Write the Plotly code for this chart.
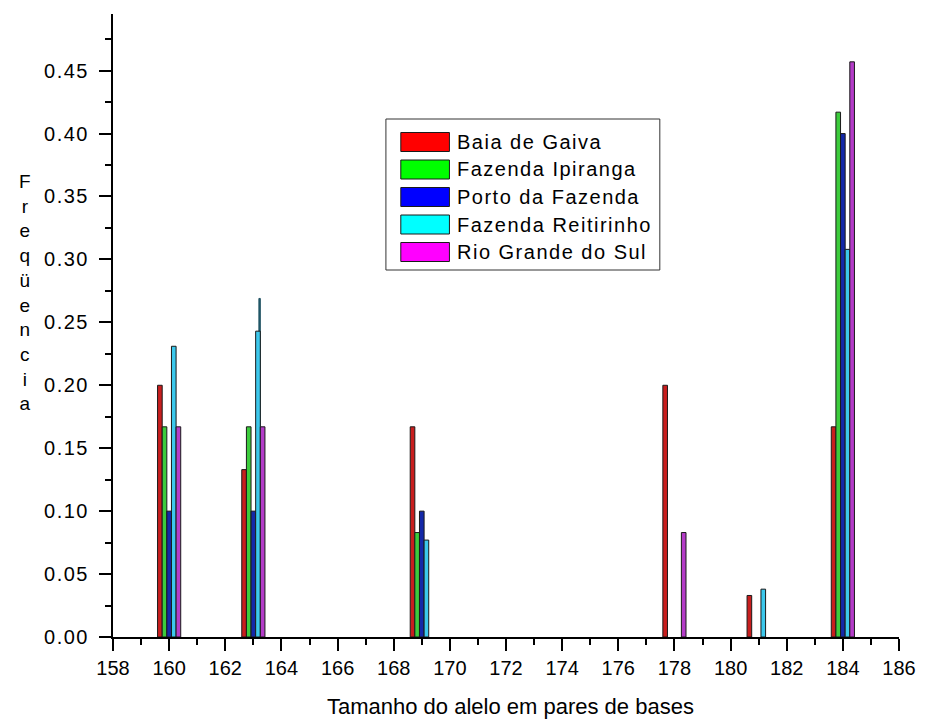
import plotly.graph_objects as go

# ---- data ----
series_names = ["Baia de Gaiva", "Fazenda Ipiranga", "Porto da Fazenda",
                "Fazenda Reitirinho", "Rio Grande do Sul"]
legend_colors = ["#ff0000", "#00ff00", "#0000ff", "#00ffff", "#ff00ff"]
bar_colors = ["#c81e1e", "#3ccc3c", "#1428a8", "#3cc8ec", "#b43cc8"]

baia_x = [160, 163, 169, 178, 181, 184]
baia_y = [0.200, 0.133, 0.167, 0.200, 0.033, 0.167]

ipiranga_x = [160, 163, 169, 184]
ipiranga_y = [0.167, 0.167, 0.083, 0.417]

porto_x = [160, 163, 169, 184]
porto_y = [0.100, 0.100, 0.100, 0.400]

reitirinho_x = [160, 163, 169, 181, 184]
reitirinho_y = [0.231, 0.243, 0.077, 0.038, 0.308]
reitirinho_extra_x = [163]
reitirinho_extra_y = [0.269]

rio_x = [160, 163, 178, 184]
rio_y = [0.167, 0.167, 0.083, 0.457]

y_tick_vals = [0.00, 0.05, 0.10, 0.15, 0.20, 0.25, 0.30, 0.35, 0.40, 0.45]
y_tick_labels = ["0.00", "0.05", "0.10", "0.15", "0.20", "0.25",
                 "0.30", "0.35", "0.40", "0.45"]

xs = [baia_x, ipiranga_x, porto_x, reitirinho_x, rio_x]
ys = [baia_y, ipiranga_y, porto_y, reitirinho_y, rio_y]

x_title = "Tamanho do alelo em pares de bases"
y_title = "Freqüencia"

# ---- layout geometry (pixels) ----
W, H = 928, 720
ML, MR, MT, MB = 113, 23, 14, 83
PW, PH = W - ML - MR, H - MT - MB


def px(xp):
    return (xp - ML) / PW


def py(yp):
    return (H - MB - yp) / PH


def spaced(s, sp):
    return '<span style="letter-spacing:%spx">%s</span>' % (sp, s)


FONT = "Liberation Sans, Arial, sans-serif"
bw = 0.165  # width of one bar slot in axis units
OUTLINE = "#1a1a1a"

fig = go.Figure()
for i, (name, col, x, y) in enumerate(zip(series_names, bar_colors, xs, ys)):
    if i == 3:
        fig.add_trace(go.Bar(
            x=reitirinho_extra_x, y=reitirinho_extra_y, width=0.05,
            offset=(i - 2.5) * bw + bw - 0.05, showlegend=False,
            marker=dict(color="#1f5f70", line=dict(color="#1f4f60", width=1)),
        ))
    fig.add_trace(go.Bar(
        x=x, y=y, name=name, width=bw, offset=(i - 2.5) * bw,
        marker=dict(color=col, line=dict(color=OUTLINE, width=1)),
        showlegend=False,
    ))

# ---- manual legend ----
shapes = []
annotations = []
box = dict(x0=388, x1=664, y0=119, y1=270)
shapes.append(dict(type="rect", xref="paper", yref="paper",
                   x0=px(box["x0"]), x1=px(box["x1"]),
                   y0=py(box["y1"]), y1=py(box["y0"]),
                   line=dict(color="#333333", width=1), fillcolor="white",
                   layer="above"))
row0, pitch = 142, 27.5
for i, (name, col) in enumerate(zip(series_names, legend_colors)):
    cy = row0 + i * pitch
    shapes.append(dict(type="rect", xref="paper", yref="paper",
                       x0=px(403), x1=px(452), y0=py(cy + 9.5), y1=py(cy - 9.5),
                       line=dict(color=OUTLINE, width=1), fillcolor=col,
                       layer="above"))
    annotations.append(dict(xref="paper", yref="paper", x=px(458), y=py(cy),
                            xanchor="left", yanchor="middle", showarrow=False,
                            text=spaced(name, 1.5),
                            font=dict(family=FONT, size=20, color="black")))

# axis titles
annotations.append(dict(xref="paper", yref="paper", x=px(514), y=py(706),
                        xanchor="center", yanchor="middle", showarrow=False,
                        text=x_title, font=dict(family=FONT, size=22, color="black")))
annotations.append(dict(xref="paper", yref="paper", x=px(24), y=py(292),
                        xanchor="center", yanchor="middle", showarrow=False,
                        text="<br>".join(list(y_title)),
                        font=dict(family=FONT, size=19, color="black")))

fig.update_layout(
    width=W, height=H,
    margin=dict(l=ML, r=MR, t=MT, b=MB, pad=0),
    paper_bgcolor="white", plot_bgcolor="white",
    barmode="overlay", showlegend=False,
    shapes=shapes, annotations=annotations,
    font=dict(family=FONT, color="black"),
)
fig.update_xaxes(
    range=[158, 186], dtick=2, tick0=158, showgrid=False, zeroline=False,
    showline=True, linecolor="black", linewidth=2,
    ticks="outside", ticklen=12, tickwidth=2, tickcolor="black",
    tickfont=dict(family=FONT, size=20, color="black"),
    minor=dict(dtick=1, ticks="outside", ticklen=6, tickwidth=2, tickcolor="black"),
)
fig.update_yaxes(
    range=[0, 0.495], tickmode="array", tickvals=y_tick_vals,
    ticktext=[spaced(t, 1.5) for t in y_tick_labels],
    showgrid=False, zeroline=False,
    showline=True, linecolor="black", linewidth=2,
    ticks="outside", ticklen=12, tickwidth=2, tickcolor="black",
    tickfont=dict(family=FONT, size=20, color="black"),
    ticklabelstandoff=6,
    minor=dict(dtick=0.025, tick0=0, ticks="outside", ticklen=6, tickwidth=2,
               tickcolor="black"),
)

fig.write_html("out.html")
